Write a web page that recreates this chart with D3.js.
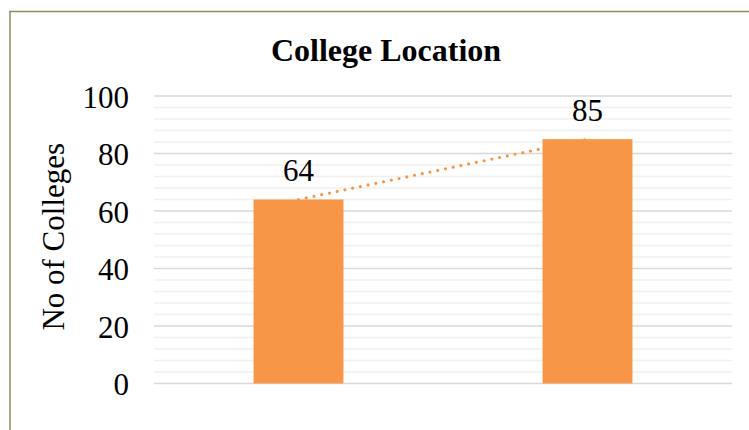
<!DOCTYPE html>
<html>
<head>
<meta charset="utf-8">
<script src="https://cdn.jsdelivr.net/npm/d3@7"></script>
<style>
  html, body { margin: 0; padding: 0; background: #fff; }
  svg { display: block; }
  text { font-family: "Liberation Serif", "Times New Roman", serif; fill: #000; }
</style>
</head>
<body>
<svg id="chart" width="749" height="430"></svg>
<script>
// Chart data
const categories = ["Location 1", "Location 2"];
const collegeCounts = [64, 85];
const yTicks = [0, 20, 40, 60, 80, 100];
const minorStep = 4;
const chartTitle = "College Location";
const yAxisTitle = "No of Colleges";

const svg = d3.select("#chart");
const W = 749, H = 430;
const plot = { left: 154, right: 732, top: 96, bottom: 383.5 };
const barColor = "#f79646";

// Outer chart frame (continues past the right and bottom edges)
svg.append("rect")
  .attr("x", 10).attr("y", 11.5)
  .attr("width", W + 20).attr("height", H + 20)
  .attr("fill", "#fff")
  .attr("stroke", "#948a54")
  .attr("stroke-width", 1.5);

const x = d3.scaleBand()
  .domain(categories)
  .range([plot.left, plot.right])
  .paddingInner(0.689)
  .paddingOuter(0.3445);

const y = d3.scaleLinear()
  .domain([0, 100])
  .range([plot.bottom, plot.top]);

// Minor gridlines
const minorVals = d3.range(0, 100 + 0.001, minorStep).filter(v => v % 20 !== 0);
svg.append("g").selectAll("line").data(minorVals).join("line")
  .attr("x1", plot.left).attr("x2", plot.right)
  .attr("y1", d => y(d)).attr("y2", d => y(d))
  .attr("stroke", "#f0f0f0").attr("stroke-width", 1.5);

// Major gridlines
svg.append("g").selectAll("line").data(yTicks).join("line")
  .attr("x1", plot.left).attr("x2", plot.right)
  .attr("y1", d => y(d)).attr("y2", d => y(d))
  .attr("stroke", "#d9d9d9").attr("stroke-width", 1.5);

// Y axis tick labels
const yAxis = d3.axisLeft(y).tickValues(yTicks).tickSize(0).tickPadding(0).tickFormat(d3.format("d"));
const gy = svg.append("g").attr("transform", `translate(129,0)`).call(yAxis);
gy.select(".domain").remove();
gy.selectAll("text")
  .attr("font-size", 31)
  .attr("font-family", "'Liberation Serif', 'Times New Roman', serif")
  .attr("fill", "#000")
  .attr("dy", "0.36em");

// Bars
svg.append("g").selectAll("rect").data(collegeCounts).join("rect")
  .attr("x", (d, i) => x(categories[i]))
  .attr("width", x.bandwidth())
  .attr("y", d => y(d))
  .attr("height", d => y(0) - y(d))
  .attr("fill", barColor);

// Linear trendline through the bar tops
const line = d3.line()
  .x((d, i) => x(categories[i]) + x.bandwidth() / 2)
  .y(d => y(d));
svg.append("path")
  .datum(collegeCounts)
  .attr("d", line)
  .attr("fill", "none")
  .attr("stroke", barColor)
  .attr("stroke-width", 3.2)
  .attr("stroke-linecap", "round")
  .attr("stroke-dasharray", "0 7.9");

// Value labels
svg.append("g").selectAll("text").data(collegeCounts).join("text")
  .attr("x", (d, i) => x(categories[i]) + x.bandwidth() / 2)
  .attr("y", d => y(d) - 18.5)
  .attr("text-anchor", "middle")
  .attr("font-size", 31)
  .text(d => d);

// Title
svg.append("text")
  .attr("x", 386).attr("y", 61)
  .attr("text-anchor", "middle")
  .attr("font-size", 32)
  .attr("font-weight", "bold")
  .text(chartTitle);

// Y axis title
svg.append("text")
  .attr("transform", `translate(64,${(plot.top + plot.bottom) / 2 - 3}) rotate(-90)`)
  .attr("text-anchor", "middle")
  .attr("font-size", 31)
  .text(yAxisTitle);
</script>
</body>
</html>
